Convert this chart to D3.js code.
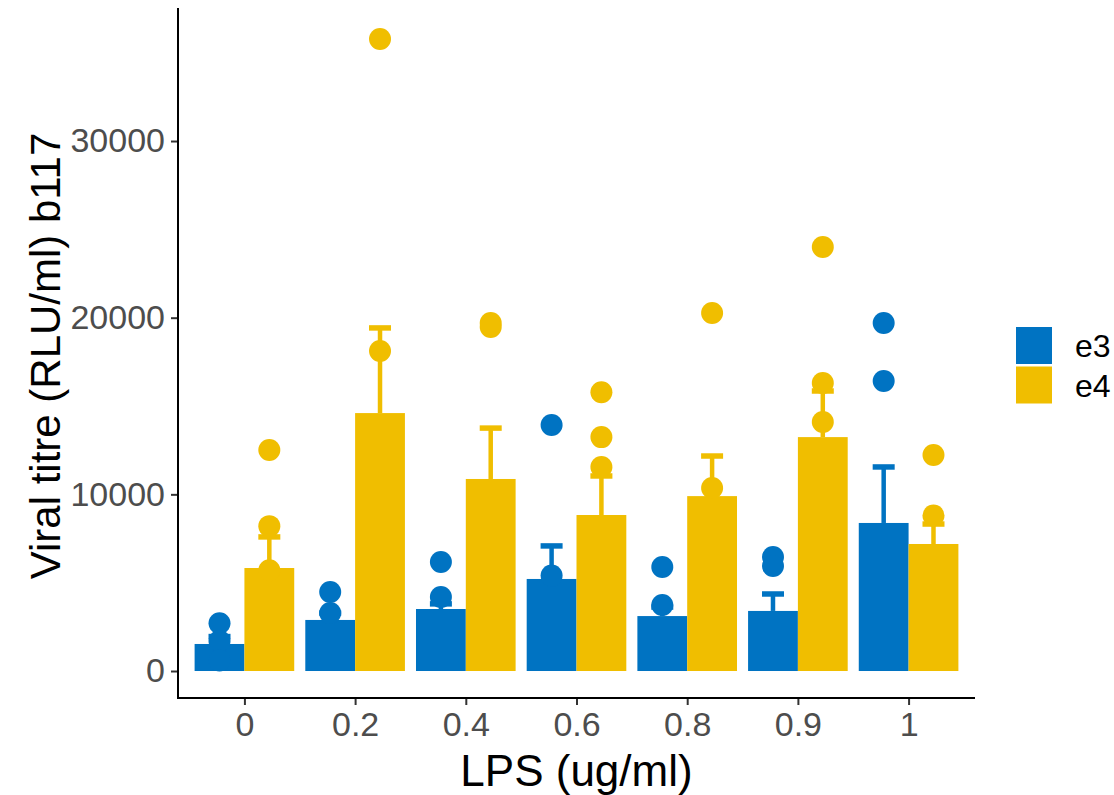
<!DOCTYPE html>
<html>
<head>
<meta charset="utf-8">
<script src="https://cdn.jsdelivr.net/npm/d3@7"></script>
<style>
  body { margin: 0; background: #fff; }
  text { font-family: "Liberation Sans", Arial, sans-serif; }
</style>
</head>
<body>
<div id="chart"></div>
<script>
var doses = ['0', '0.2', '0.4', '0.6', '0.8', '0.9', '1']
var groups = ['e3', 'e4']
var colors = ['#0073C2', '#F0BE00']

// bar heights (means) and top of error bar (mean + se)
var e3Mean = [1530, 2890, 3510, 5210, 3110, 3400, 8380]
var e3Upper = [1950, 3280, 3800, 7080, 3620, 4360, 11550]
var e4Mean = [5830, 14600, 10870, 8830, 9900, 13240, 7190]
var e4Upper = [7590, 19420, 13750, 11040, 12170, 15850, 8320]

// individual replicates
var e3Points = [
  [2700, 1700, 600],
  [4470, 3280],
  [6170, 4190],
  [13920, 5400],
  [5890, 3740],
  [6450, 5940],
  [19700, 16420]
]
var e4Points = [
  [12510, 8200, 5700],
  [35780, 18110],
  [19700, 19470],
  [15780, 13240, 11550],
  [20270, 10360],
  [24000, 16300, 14100],
  [12230, 8800]
]

var yTicks = [0, 10000, 20000, 30000]

var width = 1114
var height = 795
var margin = { top: 8, left: 178, bottom: 97, right: 139 }
var plotRight = width - margin.right
var plotBottom = height - margin.bottom

var svg = d3.select('#chart').append('svg')
  .attr('width', width)
  .attr('height', height)

var x = d3.scalePoint()
  .domain(doses)
  .range([margin.left, plotRight])
  .padding(0.6)

var step = x.step()
var dodge = d3.scaleBand()
  .domain(groups)
  .range([-0.45 * step, 0.45 * step])

var y = d3.scaleLinear()
  .domain([-1528, 37530])
  .range([plotBottom, margin.top])

var series = [
  { name: 'e3', mean: e3Mean, upper: e3Upper, points: e3Points, color: colors[0] },
  { name: 'e4', mean: e4Mean, upper: e4Upper, points: e4Points, color: colors[1] }
]

series.forEach(function (s) {
  var g = svg.append('g')
  var cx = function (i) { return x(doses[i]) + dodge(s.name) + dodge.bandwidth() / 2 }

  g.selectAll('rect.bar')
    .data(s.mean)
    .enter().append('rect')
    .attr('x', function (d, i) { return x(doses[i]) + dodge(s.name) })
    .attr('y', function (d) { return y(d) })
    .attr('width', dodge.bandwidth())
    .attr('height', function (d) { return y(0) - y(d) })
    .attr('fill', s.color)

  // error bars, upper half only
  g.selectAll('line.err')
    .data(s.upper)
    .enter().append('line')
    .attr('x1', function (d, i) { return cx(i) })
    .attr('x2', function (d, i) { return cx(i) })
    .attr('y1', function (d, i) { return y(s.mean[i]) })
    .attr('y2', function (d) { return y(d) })
    .attr('stroke', s.color)
    .attr('stroke-width', 4.5)

  g.selectAll('line.cap')
    .data(s.upper)
    .enter().append('line')
    .attr('x1', function (d, i) { return cx(i) - 11 })
    .attr('x2', function (d, i) { return cx(i) + 11 })
    .attr('y1', function (d) { return y(d) })
    .attr('y2', function (d) { return y(d) })
    .attr('stroke', s.color)
    .attr('stroke-width', 5.5)

  s.points.forEach(function (vals, i) {
    g.selectAll(null)
      .data(vals)
      .enter().append('circle')
      .attr('cx', cx(i))
      .attr('cy', function (d) { return y(d) })
      .attr('r', 11)
      .attr('fill', s.color)
  })
})

// axes
var yAxis = svg.append('g')
  .attr('transform', 'translate(' + margin.left + ',0)')
  .call(d3.axisLeft(y).tickValues(yTicks).tickSize(7).tickPadding(6).tickFormat(d3.format('d')))
var xAxis = svg.append('g')
  .attr('transform', 'translate(0,' + plotBottom + ')')
  .call(d3.axisBottom(x).tickSize(7).tickPadding(7))

;[xAxis, yAxis].forEach(function (a) {
  a.select('.domain').remove()
  a.selectAll('.tick line').attr('stroke', '#333').attr('stroke-width', 2)
  a.selectAll('.tick text')
    .attr('fill', '#4D4D4D')
    .style('font-size', '34px')
    .style('font-family', '"Liberation Sans", Arial, sans-serif')
})

svg.append('line')
  .attr('x1', margin.left).attr('x2', margin.left)
  .attr('y1', margin.top).attr('y2', plotBottom + 1)
  .attr('stroke', '#000').attr('stroke-width', 2)
svg.append('line')
  .attr('x1', margin.left - 1).attr('x2', plotRight)
  .attr('y1', plotBottom).attr('y2', plotBottom)
  .attr('stroke', '#000').attr('stroke-width', 2)

// titles
svg.append('text')
  .attr('x', (margin.left + plotRight) / 2)
  .attr('y', 786)
  .attr('text-anchor', 'middle')
  .style('font-size', '44px')
  .text('LPS (ug/ml)')

svg.append('text')
  .attr('transform', 'translate(60,' + ((margin.top + plotBottom) / 2 + 3) + ') rotate(-90)')
  .attr('text-anchor', 'middle')
  .style('font-size', '42px')
  .text('Viral titre (RLU/ml) b117')

// legend
var legend = svg.append('g').attr('transform', 'translate(1016,327)')
groups.forEach(function (name, i) {
  legend.append('rect')
    .attr('x', 0)
    .attr('y', i * 39.5)
    .attr('width', 36)
    .attr('height', 37)
    .attr('fill', colors[i])
  legend.append('text')
    .attr('x', 59)
    .attr('y', i * 39.5 + 18.5)
    .attr('dy', '0.36em')
    .style('font-size', '32px')
    .text(name)
})
</script>
</body>
</html>
